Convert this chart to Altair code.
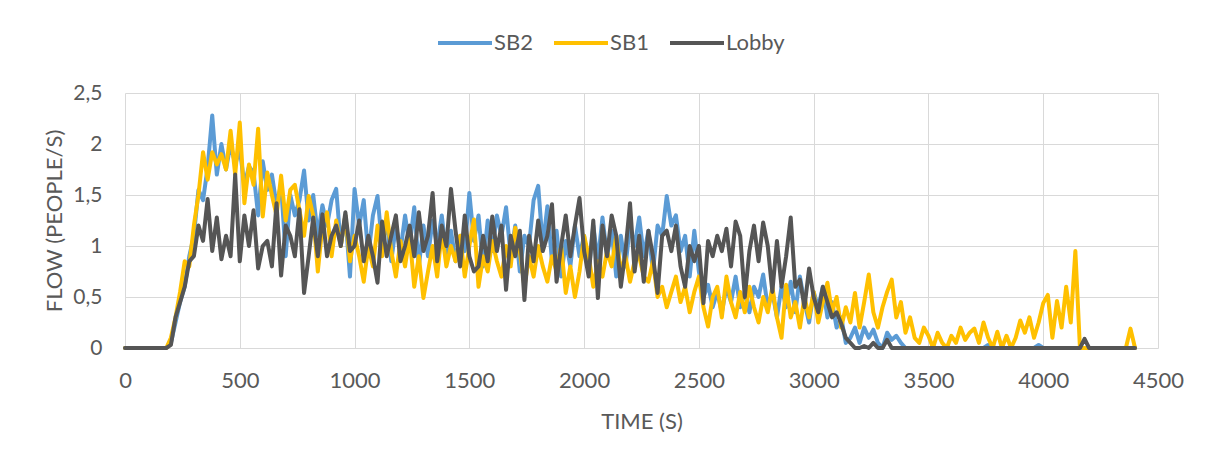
import altair as alt
import pandas as pd

# time axis, seconds (20 s steps)
time_s = list(range(0, 4420, 20))

sb2 = [
    0, 0, 0, 0, 0, 0, 0, 0, 0, 0,
    0.05, 0.25, 0.45, 0.6, 0.9, 1.1, 1.55, 1.45, 1.77, 2.28,
    1.7, 2.0, 1.75, 2.0, 1.8, 1.95, 1.6, 1.78, 1.72, 1.3,
    1.83, 1.55, 1.7, 1.4, 1.6, 0.9, 1.5, 1.3, 1.45, 1.74,
    1.25, 1.5, 1.1, 1.4, 1.2, 1.45, 1.56, 1.0, 1.3, 0.7,
    1.56, 1.2, 1.45, 0.9, 1.3, 1.49, 1.0, 1.25, 0.85, 1.2,
    0.95, 1.3, 1.0, 1.38, 0.8, 1.2, 0.9, 1.25, 1.0, 1.3,
    0.9, 1.15, 0.85, 1.1, 0.95, 1.52, 1.05, 1.3, 0.8, 1.25,
    0.95, 1.3, 1.1, 1.38, 0.9, 1.2, 0.75, 1.1, 1.0, 1.45,
    1.59, 1.0, 1.39, 0.85, 1.15, 0.7, 1.05, 0.8, 1.2, 0.9,
    1.1, 0.75, 1.2, 0.85, 1.28, 0.9, 1.15, 0.7, 1.1, 0.8,
    1.2, 1.0, 1.28, 0.9, 1.15, 0.75, 1.2, 1.1, 1.49, 1.2,
    1.3, 0.95, 1.1, 0.7, 1.15, 0.75, 0.5, 0.62, 0.4, 0.55,
    0.35, 0.6, 0.45, 0.7, 0.4, 0.55, 0.35, 0.6, 0.5, 0.72,
    0.4, 0.55, 0.3, 0.6, 0.4, 0.65, 0.35, 0.7, 0.45, 0.25,
    0.55, 0.4, 0.6, 0.3, 0.45, 0.2, 0.3, 0.05, 0.1, 0.2,
    0.05, 0.2, 0.1, 0.18, 0.05, 0.0, 0.15, 0.08, 0.12, 0.05,
    0, 0, 0, 0, 0, 0, 0, 0, 0, 0,
    0, 0, 0, 0, 0, 0, 0, 0, 0.03, 0,
    0, 0, 0, 0, 0, 0, 0, 0, 0, 0.03,
    0, 0, 0, 0, 0, 0, 0, 0, 0, 0,
    0, 0, 0, 0, 0, 0, 0, 0, 0, 0,
    0,
]

sb1 = [
    0, 0, 0, 0, 0, 0, 0, 0, 0, 0,
    0.1, 0.3, 0.55, 0.85, 0.8, 1.2, 1.5, 1.92, 1.65, 1.92,
    1.8, 1.9, 1.75, 2.13, 1.7, 2.21, 1.42, 1.8, 1.6, 2.15,
    1.29, 1.72, 1.5, 1.3, 1.69, 1.25, 1.55, 1.6, 1.35, 1.1,
    1.49, 1.3, 0.75, 1.2, 1.33, 0.9, 1.25, 1.0, 1.3, 0.85,
    1.1, 0.9, 0.65, 1.0, 0.8, 1.2, 0.9, 1.33, 0.95, 0.7,
    1.05, 0.8, 1.1, 0.6, 0.9, 0.49, 0.75, 1.0, 0.7, 1.15,
    0.8, 1.0, 0.85, 1.1, 0.7, 1.0, 1.26, 0.6, 0.9, 0.75,
    1.05, 0.85, 0.7, 1.0, 0.8, 1.18, 0.95, 0.6, 0.9, 0.7,
    1.0, 0.8, 0.65, 0.9, 0.75, 1.0, 0.54, 0.8, 0.5, 0.75,
    1.1, 0.9, 0.6, 0.85, 0.7, 0.95, 0.8, 1.1, 0.75, 0.9,
    0.65, 0.85, 0.9, 0.7, 0.65, 0.85, 0.5, 0.6, 0.4, 0.55,
    0.7, 0.45, 0.6, 0.35, 0.55, 0.7, 0.4, 0.21, 0.5, 0.6,
    0.3, 0.7, 0.45, 0.3, 0.55, 0.35, 0.6, 0.4, 0.25, 0.5,
    0.35, 0.6, 0.3, 0.1, 0.62, 0.3, 0.45, 0.2, 0.5, 0.3,
    0.55, 0.25, 0.45, 0.64, 0.35, 0.5, 0.2, 0.4, 0.25, 0.54,
    0.2, 0.45, 0.72, 0.35, 0.2, 0.4, 0.55, 0.67, 0.3, 0.45,
    0.15, 0.3, 0.1, 0.05, 0.2, 0.12, 0.0, 0.15, 0.05, 0.0,
    0.12, 0.05, 0.2, 0.08, 0.15, 0.19, 0.05, 0.25, 0.1, 0.0,
    0.16, 0.0, 0.12, 0.0, 0.1, 0.27, 0.15, 0.3, 0.1, 0.25,
    0.44, 0.52, 0.1, 0.46, 0.2, 0.6, 0.25, 0.95, 0.0, 0.0,
    0, 0, 0, 0, 0, 0, 0, 0, 0, 0.19,
    0,
]

lobby = [
    0, 0, 0, 0, 0, 0, 0, 0, 0, 0,
    0.03, 0.3, 0.45, 0.6, 0.85, 0.9, 1.2, 1.05, 1.46, 0.95,
    1.28, 0.87, 1.1, 0.9, 1.7, 0.85, 1.3, 1.0, 1.35, 0.78,
    1.0, 1.05, 0.8, 1.42, 0.71, 1.2, 1.1, 0.9, 1.36, 0.54,
    0.9, 1.28, 0.9, 1.31, 0.9, 1.1, 1.2, 1.0, 1.33, 0.95,
    1.0, 1.25, 0.85, 1.1, 0.9, 0.64, 1.24, 0.9, 1.1, 1.3,
    0.85, 1.0, 1.2, 0.9, 1.33, 0.95, 1.1, 1.52, 0.85, 1.2,
    1.0, 1.56, 1.15, 0.8, 1.3, 0.9, 0.75, 0.8, 1.1, 0.85,
    1.29, 0.95, 1.2, 0.57, 1.1, 0.9, 1.15, 0.47, 1.1, 0.85,
    1.25, 0.95, 1.1, 1.41, 0.65, 1.0, 1.3, 0.9, 1.2, 1.47,
    0.95, 0.7, 1.25, 0.49, 1.2, 0.9, 1.3, 1.1, 0.6, 0.95,
    1.42, 0.75, 1.1, 0.65, 1.15, 0.9, 0.54, 1.1, 1.15, 0.95,
    1.2, 0.8, 0.6, 1.0, 0.85, 1.0, 0.44, 1.05, 0.9, 1.1,
    0.95, 1.17, 0.8, 1.24, 1.1, 0.5, 0.95, 1.2, 0.85, 1.23,
    1.0, 0.55, 1.05, 0.6, 0.9, 1.28, 0.6, 0.67, 0.4, 0.78,
    0.5, 0.35, 0.6, 0.45, 0.3, 0.35, 0.24, 0.1, 0.05, 0.0,
    0.0, 0.02, 0.0, 0.05, 0.0, 0.0, 0.08, 0.0, 0.0, 0.0,
    0, 0, 0, 0, 0, 0, 0, 0, 0, 0,
    0, 0, 0, 0, 0, 0, 0, 0, 0, 0,
    0, 0, 0, 0, 0, 0, 0, 0, 0, 0,
    0, 0, 0, 0, 0, 0, 0, 0, 0, 0.09,
    0, 0, 0, 0, 0, 0, 0, 0, 0, 0,
    0,
]

series_names = ["SB2", "SB1", "Lobby"]
series_colors = ["#5B9BD5", "#FFC000", "#555555"]
x_ticks = list(range(0, 4501, 500))
y_ticks = [0, 0.5, 1, 1.5, 2, 2.5]

FONT = "Lato"
TXT = "#595959"
GRID = "#D9D9D9"

frames = []
for name, vals in zip(series_names, [sb2, sb1, lobby]):
    frames.append(pd.DataFrame({"t": time_s, "v": vals, "series": name}))
data = pd.concat(frames, ignore_index=True)

color_scale = alt.Scale(domain=series_names, range=series_colors)

x_enc = alt.X(
    "t:Q",
    scale=alt.Scale(domain=[0, 4500], nice=False),
    axis=alt.Axis(
        values=x_ticks, format="d", title="TIME (S)", grid=True, gridColor=GRID,
        domain=False, ticks=False, labelFont=FONT, labelFontSize=22, labelColor=TXT,
        labelPadding=22, titleFont=FONT, titleFontSize=22, titleColor=TXT,
        titleFontWeight="normal", titlePadding=20, labelFlush=False,
    ),
)
y_enc = alt.Y(
    "v:Q",
    scale=alt.Scale(domain=[0, 2.5], nice=False),
    axis=alt.Axis(
        values=y_ticks, title="FLOW (PEOPLE/S)", grid=True, gridColor=GRID,
        domain=False, ticks=False, labelFont=FONT, labelFontSize=21, labelColor=TXT,
        labelPadding=23, labelExpr="replace(format(datum.value, ''), '.', ',')",
        titleFont=FONT, titleFontSize=22, titleColor=TXT, titleFontWeight="normal",
        titlePadding=6, labelFlush=False,
    ),
)

legend = alt.Legend(
    orient="none", legendX=311, legendY=-79, direction="horizontal", title=None,
    symbolType="stroke", symbolSize=2916, symbolStrokeWidth=4, labelFont=FONT,
    labelFontSize=22, labelColor=TXT, columnPadding=13, labelOffset=0,
)

base = alt.Chart(data)
layers = []
for name in series_names:
    layer = base.transform_filter(alt.datum.series == name).mark_line(
        strokeWidth=4, strokeJoin="round", strokeCap="round"
    ).encode(
        x=x_enc,
        y=y_enc,
        color=alt.Color("series:N", scale=color_scale, legend=legend),
    )
    layers.append(layer)

chart = alt.layer(*layers).properties(
    width=1033,
    height=255,
    padding={"left": 117, "top": 85, "right": 40, "bottom": 100},
    autosize=alt.AutoSizeParams(type="none"),
).configure_view(strokeWidth=0)

chart.save("out.html", embed_options={"renderer": "svg", "actions": False})
